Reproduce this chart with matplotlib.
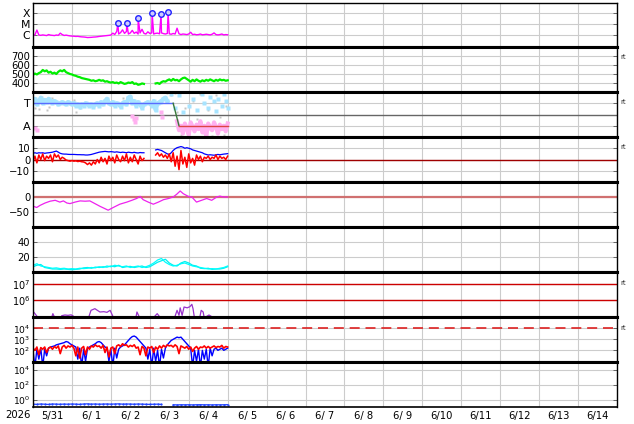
import numpy as np
import matplotlib
matplotlib.use('Agg')
import matplotlib.pyplot as plt
from matplotlib.ticker import FixedLocator, FixedFormatter, NullLocator, NullFormatter

nan = np.nan
# ---------------- data (time in days since 2026-05-31 00:00 UT) ----------------
day_labels = ['5/31', '6/ 1', '6/ 2', '6/ 3', '6/ 4', '6/ 5', '6/ 6', '6/ 7',
              '6/ 8', '6/ 9', '6/10', '6/11', '6/12', '6/13', '6/14']
year_label = '2026'

# X-ray flux (log10 W/m2), 0.05 day step
xray_log = [-6.02, -5.95, -5.52, -5.97, -6.0, -5.96, -5.99, -6.02, -5.93, -5.98,
            -6.0, -6.02, -5.97, -6.0, -5.8, -5.93, -6.01, -5.98, -6.02, -6.05,
            -6.07, -6.08, -6.1, -6.09, -6.12, -6.14, -6.15, -6.17, -6.2, -6.19,
            -6.18, -6.16, -6.15, -6.13, -6.1, -6.08, -6.06, -6.04, -6.02, -6.0,
            -5.97, -5.8, -5.92, -5.65, -5.88, -5.75, -5.5, -5.82, -5.65, -5.88,
            -5.78, -5.55, -5.82, -5.7, -5.88, -5.78, -5.45, -5.82, -5.88, -5.68,
            -5.83, -5.78, -5.88, -5.82, -5.8, -5.86, -5.78, -5.84, -5.88, -5.83,
            -5.86, -5.9, -5.83, -5.88, -5.35, -5.86, -5.93, -5.88, -5.9, -5.93,
            -5.88, -5.72, -5.93, -5.9, -5.95, -5.93, -5.88, -5.95, -5.93, -5.9,
            -5.93, -5.96, -5.9, -5.78, -5.93, -5.96, -5.93, -5.88, -5.96, -5.93, -5.95]
flare_t = [2.18, 2.41, 2.70, 3.06, 3.29, 3.47]
flare_log = [-4.91, -4.91, -4.45, -4.0, -4.09, -3.91]

# solar wind speed (km/s), 0.05 day step
sw_speed = [490, 505, 495, 510, 520, 545, 530, 540, 515, 525,
            505, 515, 500, 525, 540, 530, 545, 520, 510, 500,
            495, 485, 480, 470, 465, 455, 450, 445, 440, 435,
            425, 430, 420, 425, 435, 425, 430, 415, 420, 410,
            405, 410, 400, 405, 395, 410, 400, 390, 395, 405,
            400, 410, 390, 395, 380, 385, 395, 390, nan, nan,
            nan, nan, nan, 395, 400, 390, 410, 420, 415, 430,
            440, 425, 445, 430, 435, 420, 440, 455, 460, 445,
            430, 415, 435, 420, 440, 425, 415, 430, 420, 435,
            425, 440, 430, 420, 435, 425, 440, 430, 435, 425, 430]

# IMF sector (T = +0.5, A = -0.5)
sector_blue = [0.55, 0.7, 0.45, 0.6, 0.75, 0.5, 0.65, 0.55, 0.7, 0.6,
               0.5, 0.6, 0.55, 0.45, 0.5, 0.55, 0.5, 0.45, 0.55, 0.5,
               0.45, 0.5, 0.4, 0.45, 0.35, 0.45, 0.4, 0.5, 0.45, 0.4,
               0.45, 0.35, 0.45, 0.5, 0.4, 0.55, 0.45, 0.6, 0.7, 0.5,
               0.45, 0.55, 0.4, 0.5, 0.45, 0.35, 0.5, 0.55, 0.45, 0.75,
               0.8, 0.5, 0.6, 0.4, 0.55, 0.45, 0.3, 0.45, 0.5, 0.55,
               0.5, 0.4, 0.6, 0.2, 0.5, 0.55, 0.6, 0.7, 0.75, 0.6,
               nan, 0.9, nan, 0.3, nan, 0.85, nan, 0.1, nan, nan,
               0.4, nan, 0.7, nan, 0.2, nan, nan, 0.9, 0.5, nan,
               0.3, 0.8, nan, 0.6, 0.15, 0.7, nan, 0.4, 0.9, 0.6, 0.3]
pink_early_t = [0.05, 0.1, 2.55, 2.6, 2.62, 2.65, 3.3, 3.32]
pink_early_v = [-0.6, -0.7, -0.05, -0.2, -0.35, -0.15, 0.1, -0.1]
pink_late = [-0.3, -0.7, -0.5, -0.85, -0.4, -0.6, -0.9, -0.35, -0.55, -0.75,
             -0.45, -0.65, -0.3, -0.8, -0.5, -0.95, -0.4, -0.6, -0.7, -0.35,
             -0.55, -0.85, -0.45, -0.65, -0.5, -0.75, -0.4]
gray_t = [0.05, 0.15, 0.2, 0.35, 0.4, 0.5, 1.05, 1.1, 1.2, 2.3, 3.45, 3.55, 3.65,
          3.7, 3.8, 3.9, 4.0, 4.1, 4.2, 4.3, 4.4, 4.5, 4.6, 4.7, 4.8, 4.9, 4.95]
gray_v = [0.3, 0.25, 0.8, 0.2, 0.35, 0.75, 0.65, 0.1, 0.3, 0.75, 0.95, 0.85, 0.95,
          0.1, -0.9, 0.3, -0.95, 0.6, -0.2, 0.9, -0.8, 0.2, -0.95, 0.85, -0.1, -0.9, 0.4]
sector_line_t = [0.0, 3.6, 3.75, 5.0]
sector_line_v = [0.5, 0.5, -0.5, -0.5]

# IMF Bt and Bz (nT), 0.05 day step
imf_bt = [5.5, 6, 5.5, 6, 5.8, 6, 5.5, 5.8, 6, 6.2,
          6.5, 7, 7.5, 6.5, 5.5, 5, 4.8, 4.8, 4.6, 4.5,
          4.5, 4.5, 4.4, 4.3, 4.3, 4.2, 4.2, 4.0, 4.0, 4.2,
          4.5, 5, 5.5, 6, 6.5, 6.8, 7, 7.2, 7, 6.8,
          7, 6.8, 6.5, 6.8, 6.5, 6.2, 6.5, 6.3, 6, 6.5,
          6.2, 6, 6.4, 6, 5.8, 6.2, 6, 6, nan, nan,
          nan, nan, nan, 8.5, 9, 8.5, 8, 7, 6, 5,
          4.5, 6, 8, 9.5, 10.5, 11, 11.5, 11, 10, 10.5,
          10, 9.5, 8.5, 8, 7.5, 7, 6.5, 6, 5, 4.5,
          4, 4.2, 4, 3.8, 4.2, 4.5, 4.2, 4.5, 4.8, 5, 5.2]
imf_bz = [-2, 3, -3, 4, 0, 5, -1, 3, 1, 4,
          -2, 5, 2, 4, 0, 2, 1, -0.5, -1, -1.5,
          -1, -1.5, -1.2, -1.8, -1.5, -2, -2.2, -3, -4.5, -3,
          -5, -2, -4, 0, -3, 2, -2, 1, -4, 3,
          -1, 2, -3, 4, 0, -2, 3, -1, 5, -3,
          2, -2, 4, 0, -4, 3, -1, 1, nan, nan,
          nan, nan, nan, 4, 6, 3, 5, 2, 4, 1,
          5, -2, 6, -6, 3, -9, 8, -4, 2, -7,
          5, -3, 1, -5, 4, 0, 3, -2, 2, 1,
          3, 0, 2, 1, 4, 0, 3, 1, 2, 0, 3]

# Dst (nT)
dst_t = [0.01, 0.095, 0.18, 0.31, 0.44, 0.57, 0.69, 0.78, 0.87, 0.95, 1.08, 1.21,
         1.34, 1.46, 1.59, 1.72, 1.85, 1.93, 2.06, 2.23, 2.41, 2.54, 2.66, 2.75,
         2.83, 2.96, 3.09, 3.22, 3.35, 3.48, 3.60, 3.69, 3.78, 3.86, 3.99, 4.08,
         4.20, 4.33, 4.46, 4.59, 4.72, 4.80, 4.89, 5.0]
dst_v = [-31, -35, -28, -20, -14, -11, -17, -13, -20, -22, -17, -13,
         -14, -13, -22, -31, -39, -44, -35, -24, -17, -11, -5, 2,
         -9, -17, -24, -17, -9, -5, 0, 9, 20, 11, 2, 0,
         -17, -11, -5, -11, 0, 3, 0, 0]

# solar wind density (two series), 0.1 day step
dens_a = [9, 11, 8, 7, 6, 5, 5.5, 4.5, 5, 4,
          4.5, 4, 5, 4.5, 5, 6, 5.5, 7, 6, 8,
          7, 9, 8, 7, 8, 6, 7, 8, 6, 7,
          9, 12, 16, 18, 13, 10, 8, 9, 11, 12,
          10, 8, 7, 6, 5, 4, 4.5, 4, 5, 6, 8]
dens_b = [7, 9, 10, 6, 5, 4, 4, 3.5, 4, 3.5,
          3, 3.5, 4, 5.5, 6, 5, 6.5, 6, 7, 6.5,
          8, 7, 9, 6, 7, 7.5, 6, 7, 8, 6,
          7, 10, 13, 15, 17, 12, 9, 8, 12, 14,
          12, 9, 8, 5, 4.5, 5, 3.5, 4, 4, 5, 7]

# electron fluence (log10)
fl_t = [0.0, 0.05, 0.1, nan, 0.49, 0.51, 0.54, nan, 0.74, 0.82, 0.90, 0.98, 1.03, nan,
        1.44, 1.49, 1.59, 1.64, 1.72, 1.82, 1.90, 1.98, 2.05, nan,
        2.65, 2.67, 2.72, nan, 3.13, 3.19, 3.24, nan,
        3.65, 3.70, 3.75, 3.78, 3.83, 3.88, 3.96, 4.03, 4.08, 4.11, 4.14, nan,
        4.29, 4.32, 4.37, 4.39, nan, 4.47, 4.52, 4.57]
fl_log = [5.35, 5.2, 5.05, nan, 5.05, 5.2, 5.05, nan, 5.08, 5.12, 5.1, 5.13, 5.06, nan,
          5.05, 5.4, 5.5, 5.42, 5.3, 5.32, 5.28, 5.4, 5.05, nan,
          5.05, 5.3, 5.05, nan, 5.05, 5.2, 5.05, nan,
          5.05, 5.4, 5.1, 5.55, 5.1, 5.6, 5.55, 5.62, 5.76, 5.5, 5.05, nan,
          5.05, 5.4, 5.3, 5.05, nan, 5.05, 5.12, 5.05]

# particle flux (log10), 0.05 day step
pf_blue = [2.0, 0.5, 2.1, 1.2, 2.2, 0.5, 2.1, 1.5, 2.2, 2.3,
           2.35, 2.4, 2.5, 2.55, 2.6, 2.65, 2.7, 2.8, 2.75, 2.6,
           2.5, 2.4, 2.3, 1.2, 2.2, 0.5, 2.1, 1.0, 2.2, 2.3,
           2.4, 2.5, 2.6, 2.75, 2.8, 2.7, 2.5, 2.3, 2.2, 1.0,
           2.1, 0.5, 2.2, 1.3, 2.1, 2.3, 2.4, 2.5, 2.7, 2.9,
           3.1, 3.25, 3.3, 3.2, 3.0, 2.8, 2.6, 2.4, 2.2, 1.2,
           2.1, 0.5, 2.2, 1.0, 2.0, 0.5, 2.1, 1.3, 2.2, 2.5,
           2.7, 2.9, 3.0, 3.1, 3.2, 3.15, 3.2, 3.0, 2.8, 2.6,
           2.4, 2.2, 0.5, 2.0, 1.0, 2.1, 0.5, 2.0, 1.2, 2.1,
           0.5, 2.2, 1.5, 2.1, 2.2, 2.0, 2.1, 2.2, 2.0, 2.1, 2.2]
pf_red = [2.2, 2.0, 2.3, 1.6, 2.25, 2.1, 2.3, 1.8, 2.2, 2.3,
          2.1, 2.35, 2.2, 2.4, 1.7, 2.3, 2.45, 2.2, 2.4, 2.3,
          2.45, 2.2, 1.5, 2.3, 1.3, 2.2, 2.35, 1.6, 2.3, 2.1,
          2.4, 2.3, 2.5, 2.35, 2.4, 2.2, 2.45, 1.8, 2.3, 1.4,
          2.2, 2.3, 1.7, 2.4, 2.5, 2.35, 2.6, 2.45, 2.5, 2.3,
          2.45, 2.35, 2.5, 2.2, 2.3, 1.6, 2.35, 2.2, 1.5, 2.3,
          2.2, 2.35, 1.8, 2.3, 2.1, 2.4, 2.2, 2.45, 2.3, 2.5,
          2.4, 2.45, 2.3, 2.5, 2.35, 1.7, 2.4, 2.3, 2.2, 2.35,
          2.1, 2.3, 1.9, 2.2, 2.35, 2.1, 2.3, 2.25, 2.4, 2.2,
          2.35, 2.2, 2.3, 2.4, 2.25, 2.35, 2.3, 2.45, 2.2, 2.35, 2.3]

# bottom panel flux (log10), 0.1 day step
bot_log = [-0.62, -0.65, -0.6, -0.63, -0.66, -0.6, -0.62, -0.64, -0.61, -0.63,
           -0.6, -0.62, -0.65, -0.6, -0.58, -0.62, -0.6, -0.63, -0.61, -0.6,
           -0.62, -0.6, -0.58, -0.62, -0.6, -0.61, -0.63, -0.6, -0.62, -0.64,
           -0.65, -0.63, -0.62, -0.66, nan, nan, -0.7, -0.72, -0.7, -0.71,
           -0.7, -0.72, -0.7, -0.69, -0.71, -0.7, -0.72, -0.7, -0.71, -0.7, -0.69]

# ---------------- figure ----------------
W, H = 634, 424
fig = plt.figure(figsize=(W / 100, H / 100), dpi=100)
L, R = 33, 617
edges = [3, 47, 92, 137, 182, 227, 272, 317, 362, 407]
GRID = '#cccccc'
TFS = 7.2
LOGFS = 6.6

t05 = np.arange(101) * 0.05
t10 = np.arange(51) * 0.1

axes = []
for i in range(9):
    top, bot = edges[i], edges[i + 1]
    ax = fig.add_axes([L / W, 1 - bot / H, (R - L) / W, (bot - top) / H])
    ax.set_xlim(0, 15)
    ax.xaxis.set_major_locator(FixedLocator(np.arange(0, 16)))
    ax.xaxis.set_major_formatter(NullFormatter())
    ax.tick_params(axis='x', which='major', length=0)
    ax.grid(True, axis='x', color=GRID, lw=0.8)
    ax.tick_params(axis='y', which='major', direction='in', length=3, width=0.6,
                   right=True, labelsize=TFS, pad=2, color='#555555')
    ax.tick_params(axis='y', which='minor', length=0)
    for s in ['left', 'right']:
        ax.spines[s].set_linewidth(1.0)
    ax.spines['top'].set_linewidth(2.2 if i > 0 else 1.0)
    ax.spines['bottom'].set_linewidth(2.2 if i < 8 else 1.2)
    ax.spines['top'].set_zorder(5)
    ax.spines['bottom'].set_zorder(5)
    axes.append(ax)

def ygrid(ax):
    ax.grid(True, axis='y', which='major', color=GRID, lw=0.8)

# panel 1: X-ray
ax = axes[0]
ax.set_yscale('log')
ax.set_ylim(10 ** -7.06, 10 ** -3.06)
ax.yaxis.set_minor_locator(NullLocator())
ax.yaxis.set_major_locator(FixedLocator([1e-6, 1e-5, 1e-4]))
ax.yaxis.set_major_formatter(FixedFormatter(['C', 'M', 'X']))
ax.tick_params(axis='y', labelsize=7.8)
ygrid(ax)
xt = np.concatenate([t05, flare_t])
xv = np.concatenate([xray_log, flare_log])
o = np.argsort(xt)
ax.plot(xt[o], 10 ** xv[o], color='#ff00ff', lw=1.0)
ax.plot(flare_t, 10 ** np.array(flare_log), 'o', ms=4, mfc='#ccccff', mec='#2222ff', mew=1.0)

# panel 2: solar wind speed
ax = axes[1]
ax.set_ylim(300, 800)
ax.yaxis.set_major_locator(FixedLocator([400, 500, 600, 700]))
ygrid(ax)
ax.plot(t05, sw_speed, color='#00ee00', lw=1.6)

# panel 3: IMF sector
ax = axes[2]
ax.set_ylim(-1, 1)
ax.yaxis.set_major_locator(FixedLocator([-0.5, 0.5]))
ax.yaxis.set_major_formatter(FixedFormatter(['A', 'T']))
ax.tick_params(axis='y', labelsize=8.2)
ygrid(ax)
ax.axhline(0, color='#666666', lw=1.0)
ax.plot(gray_t, gray_v, 's', ms=2, color='#c4c4c4', mec='none')
ax.plot(t05[:70], sector_blue[:70], color='#a8e4ff', lw=3.0)
ax.plot(t05, sector_blue, 's', ms=2.5, color='#a8e4ff', mec='none')
ax.plot(pink_early_t, pink_early_v, 's', ms=2.5, color='#ffb0f0', mec='none')
tl = 3.7 + np.arange(len(pink_late)) * 0.05
ax.plot(tl, pink_late, color='#ffb0f0', lw=3.0)
ax.plot(sector_line_t[:2], sector_line_v[:2], color='#5a6cff', lw=1.0)
ax.plot(sector_line_t[1:3], sector_line_v[1:3], color='#3a7a3a', lw=1.0)
ax.plot(sector_line_t[2:], sector_line_v[2:], color='#dd4444', lw=1.0)

# panel 4: IMF Bt/Bz
ax = axes[3]
ax.set_ylim(-20, 20)
ax.yaxis.set_major_locator(FixedLocator([-10, 0, 10]))
ygrid(ax)
ax.axhline(0, color='#a00000', lw=1.0)
ax.plot(t05, imf_bt, color='#0000ff', lw=0.9)
ax.plot(t05, imf_bz, color='#ff0000', lw=1.1)

# panel 5: Dst
ax = axes[4]
ax.set_ylim(-100, 50)
ax.yaxis.set_major_locator(FixedLocator([-50, 0]))
ygrid(ax)
ax.axhline(0, color='#d07070', lw=1.6)
ax.plot(dst_t, dst_v, color='#ee22ee', lw=0.9)

# panel 6: density
ax = axes[5]
ax.set_ylim(0, 60)
ax.yaxis.set_major_locator(FixedLocator([20, 40]))
ygrid(ax)
ax.plot(t10, dens_b, color='#00eeee', lw=0.9)
ax.plot(t10, dens_a, color='#00ffff', lw=0.9)

# panel 7: electron fluence
ax = axes[6]
ax.set_yscale('log')
ax.set_ylim(1e5, 10 ** 7.7)
ax.yaxis.set_minor_locator(NullLocator())
ax.yaxis.set_major_locator(FixedLocator([1e6, 1e7]))
ax.tick_params(axis='y', labelsize=LOGFS + 0.4)
ygrid(ax)
ax.axhline(1e6, color='#cc0000', lw=1.0)
ax.axhline(1e7, color='#cc0000', lw=1.0)
ax.plot(fl_t, 10 ** np.array(fl_log), color='#9933cc', lw=0.9)

# panel 8: particle flux
ax = axes[7]
ax.set_yscale('log')
ax.set_ylim(10 ** 0.94, 10 ** 5.03)
ax.yaxis.set_minor_locator(NullLocator())
ax.yaxis.set_major_locator(FixedLocator([1e2, 1e3, 1e4]))
ax.tick_params(axis='y', labelsize=LOGFS)
ygrid(ax)
ax.axhline(1e4, color='#dd2222', lw=1.2, linestyle=(0, (6, 3.5)))
ax.plot(t05, 10 ** np.array(pf_blue), color='#0000ff', lw=1.0)
ax.plot(t05, 10 ** np.array(pf_red), color='#ff0000', lw=1.2)

# panel 9: bottom flux
ax = axes[8]
ax.set_yscale('log')
ax.set_ylim(1e-1, 1e5)
ax.yaxis.set_minor_locator(NullLocator())
ax.yaxis.set_major_locator(FixedLocator([1e0, 1e2, 1e4]))
ax.tick_params(axis='y', labelsize=LOGFS)
ygrid(ax)
ax.plot(t10, 10 ** np.array(bot_log), color='#2244ff', lw=0.9, marker='.', ms=1.2)

# x labels at noon
ax.xaxis.set_minor_locator(FixedLocator(np.arange(15) + 0.5))
ax.xaxis.set_minor_formatter(FixedFormatter(day_labels))
ax.tick_params(axis='x', which='minor', length=0, labelsize=TFS, pad=3)
fig.text((L - 2) / W, 1 - 415 / H, year_label, ha='right', va='center', fontsize=TFS)

# 'rt' markers on the right
for yp in [57, 102, 147, 283, 328]:
    fig.text(620 / W, 1 - yp / H, 'rt', ha='left', va='center', fontsize=5, color='#333333')

fig.savefig('out.png', dpi=100)
